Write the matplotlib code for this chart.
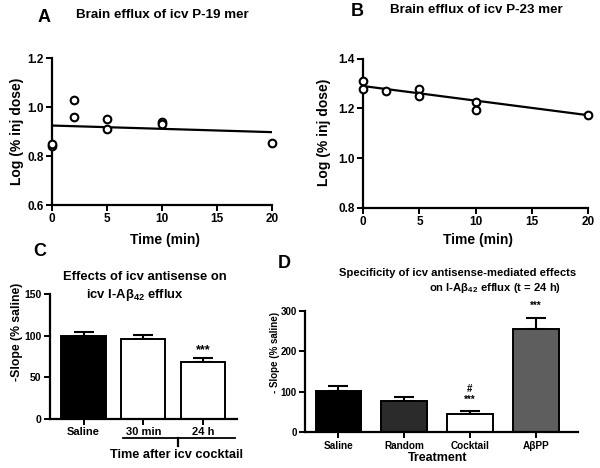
import matplotlib
matplotlib.use("Agg")
import matplotlib.pyplot as plt
import numpy as np

plt.rcParams['font.family'] = ['Liberation Sans', 'DejaVu Sans']
plt.rcParams['font.weight'] = 'bold'
plt.rcParams['axes.labelweight'] = 'bold'
plt.rcParams['mathtext.fontset'] = 'custom'
plt.rcParams['mathtext.rm'] = 'Liberation Sans:bold'
plt.rcParams['mathtext.it'] = 'Liberation Sans:bold'
plt.rcParams['mathtext.bf'] = 'Liberation Sans:bold'

# ---- data ----
a_time = [0, 0, 2, 2, 5, 5, 10, 10, 20]
a_val = [0.84, 0.85, 1.03, 0.96, 0.95, 0.91, 0.94, 0.93, 0.855]
a_fit_x = [0, 20]
a_fit_y = [0.925, 0.898]

b_time = [0, 0, 2, 5, 5, 10, 10, 20]
b_val = [1.31, 1.28, 1.27, 1.28, 1.25, 1.225, 1.195, 1.172]
b_fit_x = [0, 20]
b_fit_y = [1.29, 1.173]

c_labels = ['Saline', '30 min', '24 h']
c_vals = [100, 96, 68]
c_err = [5, 5, 5]
c_colors = ['black', 'white', 'white']

d_labels = ['Saline', 'Random', 'Cocktail', 'A\u03b2PP']
d_vals = [102, 77, 44, 255]
d_err = [11, 10, 8, 26]
d_colors = ['black', '#2b2b2b', 'white', '#5e5e5e']

W, H = 600, 468
fig = plt.figure(figsize=(6, 4.68), dpi=100)

def rect(l, t, r, b):
    return [l / W, 1 - b / H, (r - l) / W, (b - t) / H]

def style(ax, size):
    for s in ['top', 'right']:
        ax.spines[s].set_visible(False)
    for s in ['left', 'bottom']:
        ax.spines[s].set_linewidth(1.6)
    ax.tick_params(direction='out', length=4, width=1.4, labelsize=size, pad=2)
    for lab in ax.get_xticklabels() + ax.get_yticklabels():
        lab.set_fontweight('bold')

def ftext(x, y, s, **kw):
    fig.text(x / W, 1 - y / H, s, ha=kw.pop('ha', 'center'), va=kw.pop('va', 'center'),
             fontweight='bold', **kw)

# ---- Panel A ----
axA = fig.add_axes(rect(52, 58.3, 272, 205))
axA.plot(a_fit_x, a_fit_y, color='black', lw=1.6, zorder=2)
axA.plot(a_time, a_val, 'o', mfc='white', mec='black', mew=1.5, ms=5.5, clip_on=False, zorder=3)
axA.set_xlim(0, 20)
axA.set_ylim(0.6, 1.2)
axA.set_xticks([0, 5, 10, 15, 20])
axA.set_yticks([0.6, 0.8, 1.0, 1.2])
axA.set_yticklabels(['0.6', '0.8', '1.0', '1.2'])
style(axA, 8.5)
ftext(17, 131, 'Log (% inj dose)', rotation=90, fontsize=10)
ftext(165, 240, 'Time (min)', fontsize=10)
ftext(44, 17, 'A', fontsize=13)
ftext(162, 15, 'Brain efflux of icv P-19 mer', fontsize=9.6)

# ---- Panel B ----
axB = fig.add_axes(rect(363.3, 58.7, 588, 208))
axB.plot(b_fit_x, b_fit_y, color='black', lw=1.6, zorder=2)
axB.plot(b_time, b_val, 'o', mfc='white', mec='black', mew=1.5, ms=5.5, clip_on=False, zorder=3)
axB.set_xlim(0, 20)
axB.set_ylim(0.8, 1.4)
axB.set_xticks([0, 5, 10, 15, 20])
axB.set_yticks([0.8, 1.0, 1.2, 1.4])
axB.set_yticklabels(['0.8', '1.0', '1.2', '1.4'])
style(axB, 8.5)
ftext(324, 132, 'Log (% inj dose)', rotation=90, fontsize=10)
ftext(478, 240, 'Time (min)', fontsize=10)
ftext(357, 11, 'B', fontsize=13)
ftext(476, 10, 'Brain efflux of icv P-23 mer', fontsize=9.6)

# ---- Panel C ----
axC = fig.add_axes(rect(50, 294.3, 236.7, 419))
xc = np.arange(len(c_labels))
axC.bar(xc, c_vals, width=0.74, color=c_colors, edgecolor='black', linewidth=1.4, zorder=2)
axC.errorbar(xc, c_vals, yerr=[[0] * len(c_err), c_err], fmt='none', ecolor='black',
             elinewidth=1.5, capsize=7, capthick=1.5, zorder=1)
axC.set_xlim(-0.56, 2.56)
axC.set_ylim(0, 150)
axC.set_yticks([0, 50, 100, 150])
axC.set_xticks(xc)
axC.set_xticklabels(c_labels)
style(axC, 7.5)
axC.tick_params(axis='x', labelsize=8)
axC.text(xc[2], c_vals[2] + c_err[2] + 3, '***', ha='center', va='bottom', fontsize=9,
         fontweight='bold')
ftext(17, 332, '-Slope (% saline)', rotation=90, fontsize=8.8)
ftext(40, 252, 'C', fontsize=13)
ftext(145, 277, 'Effects of icv antisense on', fontsize=9.4)
ftext(135, 295, 'icv I-A\u03b2$_{42}$ efflux', fontsize=9.4)
fig.add_artist(plt.Line2D([123 / W, 235 / W], [1 - 437.7 / H] * 2, color='black', lw=1.3))
fig.add_artist(plt.Line2D([178 / W, 178 / W], [1 - 437.7 / H, 1 - 446 / H], color='black', lw=1.6))
ftext(176, 455, 'Time after icv cocktail', fontsize=9.2)

# ---- Panel D ----
axD = fig.add_axes(rect(305, 310.7, 578, 432.3))
xd = np.arange(len(d_labels))
axD.bar(xd, d_vals, width=0.69, color=d_colors, edgecolor='black', linewidth=1.4, zorder=2)
axD.errorbar(xd, d_vals, yerr=[[0] * len(d_err), d_err], fmt='none', ecolor='black',
             elinewidth=1.5, capsize=7.5, capthick=1.5, zorder=1)
axD.set_xlim(-0.505, 3.64)
axD.set_ylim(0, 300)
axD.set_yticks([0, 100, 200, 300])
axD.set_xticks(xd)
axD.set_xticklabels(d_labels)
style(axD, 7)
axD.tick_params(axis='x', labelsize=7.2)
axD.text(xd[3], d_vals[3] + d_err[3] + 18, '***', ha='center', va='bottom', fontsize=7,
         fontweight='bold', clip_on=False)
axD.text(xd[2], d_vals[2] + d_err[2] + 16, '***', ha='center', va='bottom', fontsize=7,
         fontweight='bold')
axD.text(xd[2], d_vals[2] + d_err[2] + 43, '#', ha='center', va='bottom', fontsize=7,
         fontweight='bold')
ftext(275, 352, '- Slope (% saline)', rotation=90, fontsize=7)
ftext(438, 458, 'Treatment', fontsize=9)
ftext(284, 263, 'D', fontsize=13)
ftext(458, 273, 'Specificity of icv antisense-mediated effects', fontsize=8.1)
ftext(495, 288, 'on I-A\u03b2$_{42}$ efflux (t = 24 h)', fontsize=8.1)

fig.savefig('out.png', dpi=100)
